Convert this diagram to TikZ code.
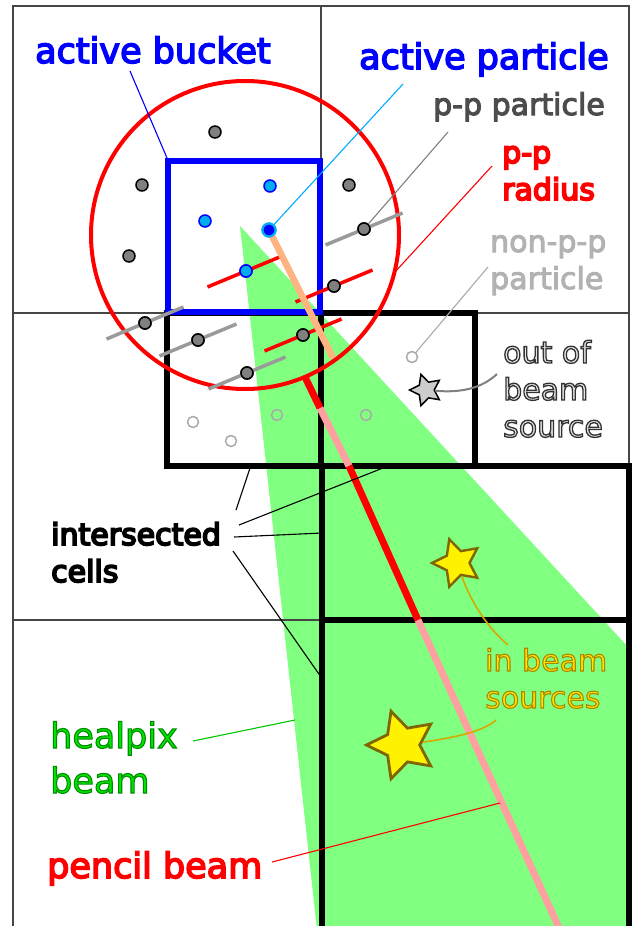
\documentclass[tikz,border=0pt]{standalone}
\usepackage{fontspec}
\setmainfont{DejaVu Sans}
\usetikzlibrary{shapes.geometric}
\definecolor{beamgreen}{RGB}{128,255,128}
\definecolor{pinkbeam}{RGB}{255,160,160}
\definecolor{orangebeam}{RGB}{255,179,128}
\definecolor{ppgray}{RGB}{128,128,128}
\definecolor{npgray}{RGB}{170,170,170}
\definecolor{gridgray}{RGB}{70,70,70}
\definecolor{skyline}{RGB}{0,170,255}
\definecolor{goldline}{RGB}{212,170,0}
\definecolor{staroutline}{RGB}{128,102,0}
\definecolor{hpgreen}{RGB}{0,230,0}
\definecolor{hpline}{RGB}{0,200,0}
\definecolor{ibyellow}{RGB}{255,230,0}
\definecolor{pptext}{RGB}{77,77,77}
\definecolor{nptext}{RGB}{179,179,179}
\definecolor{obtext}{RGB}{230,230,230}
% text filled in the node colour and stroked in #1 (rgb 0..1), width #2
\newcommand{\stroked}[3]{\special{pdf:literal direct #1 RG #2 w 2 Tr}\begin{tabular}[t]{@{}l@{}}#3\end{tabular}\special{pdf:literal direct 0 Tr}}

\begin{document}
\begin{tikzpicture}[x=1pt,y=-1pt,
  cellline/.style={gridgray,line width=1.2pt},
  cellbox/.style={black,line width=5.5pt},
  ppart/.style={circle,draw=black,fill=ppgray,line width=1.5pt,minimum size=12pt,inner sep=0pt},
  bpart/.style={circle,draw=blue,fill=cyan,line width=1.5pt,minimum size=12pt,inner sep=0pt},
  npart/.style={circle,draw=npgray,line width=1.5pt,minimum size=11pt,inner sep=0pt},
  apart/.style={circle,draw=cyan,fill=blue,line width=2.2pt,minimum size=13pt,inner sep=0pt},
  ppline/.style={line width=3.5pt},
  leader/.style={line width=1.1pt},
  src/.style={star,star points=5,star point ratio=2,shape border rotate=90,inner sep=0pt},
  big/.style={font=\fontsize{35}{45}\selectfont},
  small/.style={font=\fontsize{30}{37}\selectfont},
  lbl/.style={inner sep=0pt,anchor=base west},
]
  \clip (0,0) rectangle (633,926);
  \fill[white] (0,0) rectangle (633,926);
  % healpix beam
  \fill[beamgreen] (240,226) -- (317,930) -- (629,930) -- (629,648) -- cycle;
  % grid of cells
  \draw[cellline] (13,930) -- (13,6) -- (629,6) -- (629,930);
  \draw[cellline] (13,313) -- (629,313);
  \draw[cellline] (13,620) -- (629,620);
  \draw[cellline] (321,6) -- (321,313);
  % intersected cells
  \draw[cellbox] (167,313) rectangle (321,466);
  \draw[cellbox] (321,313) rectangle (475,466);
  \draw[cellbox] (322,466) rectangle (629,620);
  \draw[cellbox] (322,940) -- (322,620) -- (629,620) -- (629,940);
  % p-p radius
  \draw[red,line width=4pt] (245,235) circle[radius=154];
  % active bucket
  \draw[blue,line width=6.5pt] (168,161) rectangle (320,312);
  \coordinate (bktc) at (167,158);

  % particles
  \node[ppart] (g1) at (215,132) {};
  \node[ppart] (g2) at (142,185) {};
  \node[ppart] (g3) at (129,256) {};
  \node[ppart] (g4) at (349,185) {};
  \node[ppart] (g5) at (364,229) {};
  \node[ppart] (g6) at (145,323) {};
  \node[ppart] (g7) at (198,340) {};
  \node[ppart] (g8) at (247,373) {};
  \node[ppart] (r1) at (334,286) {};
  \node[ppart] (r2) at (303,335) {};
  \node[bpart] (b1) at (270,186) {};
  \node[bpart] (b2) at (205,221) {};
  \node[bpart] (b3) at (246,271) {};
  \foreach \p in {g5,g6,g7,g8}
    \draw[ppline,ppgray!80] ([shift={(-38.5,16)}]\p.center) -- ([shift={(38.5,-16)}]\p.center);
  \foreach \p in {b3,r1,r2}
    \draw[ppline,red] ([shift={(-38.5,16)}]\p.center) -- ([shift={(38.5,-16)}]\p.center);
  % pencil beam
  \coordinate (pb0) at (305,377);
  \coordinate (pb1) at (320,408);
  \coordinate (pb2) at (349,466);
  \coordinate (pb3) at (418,620);
  \coordinate (pb4) at (560,930);
  \node[apart] (ap) at (269,230) {};
  \draw[orangebeam,line width=6.5pt] (ap.center) -- (333,358);
  \draw[red,line width=7pt] (pb0) -- (pb1);
  \draw[pinkbeam,line width=7pt] (pb1) -- (pb2);
  \draw[red,line width=7pt] (pb2) -- (pb3);
  \draw[pinkbeam,line width=7pt] (pb3) -- (pb4);
  % particles on top of their lines
  \foreach \p/\s in {g5/ppart,g6/ppart,g7/ppart,g8/ppart,r1/ppart,r2/ppart,b3/bpart}
    \node[\s] at (\p) {};
  \node[apart] at (ap) {};
  \node[npart] (n1) at (412,357) {};
  \node[npart] (n2) at (193,422) {};
  \node[npart] (n3) at (231,441) {};
  \node[npart] (n4) at (277,415) {};
  \node[npart] (n5) at (366,415) {};
  % sources
  \node[src,draw=black,fill=black!20,line width=1.5pt,minimum size=33pt] (sOut) at (426,390) {};
  \node[src,draw=staroutline,fill=yellow,line width=2.4pt,minimum size=50pt] (sIn1) at (457,563) {};
  \node[src,draw=staroutline,fill=yellow,line width=2.8pt,minimum size=71pt] (sIn2) at (402,745) {};

  % labels
  \node[lbl,big,text=blue] (lBucket) at (35,63) {\stroked{0 0 1}{1.5}{active bucket}};
  \node[lbl,big,text=blue] (lActive) at (359,69) {\stroked{0 0 1}{1.5}{active particle}};
  \node[lbl,small,text=pptext] (lPP) at (433,115) {\stroked{0.3 0.3 0.3}{1.1}{p-p particle}};
  \node[lbl,small,text=red] (lRadius) at (502,163) {\stroked{1 0 0}{1.8}{p-p\\radius}};
  \node[lbl,small,text=nptext] (lNonPP) at (490,252) {\stroked{0.7 0.7 0.7}{1.0}{non-p-p\\particle}};
  \node[lbl,small,text=obtext] (lOut) at (503,363) {\stroked{0.2 0.2 0.2}{1.3}{out of\\beam\\source}};
  \node[lbl,small,text=black] (lCells) at (51,545) {\stroked{0 0 0}{1.8}{intersected\\cells}};
  \node[lbl,small,text=ibyellow] (lIn) at (485,671) {\stroked{0.67 0.53 0}{1.1}{in beam\\sources}};
  \node[lbl,big,text=hpgreen] (lHealpix) at (50,748) {\stroked{0 0.55 0}{1.1}{healpix\\beam}};
  \node[lbl,big,text=red] (lPencil) at (47,878) {\stroked{1 0 0}{1.6}{pencil beam}};

  % leaders
  \coordinate (lb) at (130,71);
  \coordinate (la) at (403,84);
  \coordinate (lp) at (448,132);
  \coordinate (lr) at (492,166);
  \coordinate (rc) at (395,272);
  \coordinate (ln) at (488,267);
  \coordinate (lo) at (497,374);
  \coordinate (lc1) at (236,510);
  \coordinate (lc2) at (239,525);
  \coordinate (lc3) at (234,537);
  \coordinate (lc4) at (233,551);
  \coordinate (cA) at (250,468);
  \coordinate (cB) at (383,468);
  \coordinate (cC) at (322,533);
  \coordinate (cD) at (321,677);
  \coordinate (li1) at (508,645);
  \coordinate (li2) at (496,720);
  \coordinate (lh) at (193,741);
  \coordinate (hb) at (295,720);
  \coordinate (lpb) at (272,862);
  \coordinate (pbm) at (500,803);
  \draw[leader,blue] (lb) -- (bktc);
  \draw[leader,skyline] (la) -- (ap);
  \draw[leader,ppgray] (lp) -- (g5);
  \draw[leader,red] (lr) -- (rc);
  \draw[leader,npgray] (ln) -- (n1);
  \draw[leader,ppgray,line width=2pt] (sOut) .. controls (462,393) and (482,388) .. (lo);
  \foreach \a/\b in {lc1/cA,lc2/cB,lc3/cC,lc4/cD}
    \draw[leader,black] (\a) -- (\b);
  \draw[leader,goldline,line width=1.6pt] (sIn1) .. controls (472,605) and (490,630) .. (li1);
  \draw[leader,goldline,line width=1.6pt] (li2) .. controls (485,730) and (460,737) .. (sIn2);
  \draw[leader,hpline] (lh) -- (hb);
  \draw[leader,red] (lpb) -- (pbm);
\end{tikzpicture}
\end{document}
